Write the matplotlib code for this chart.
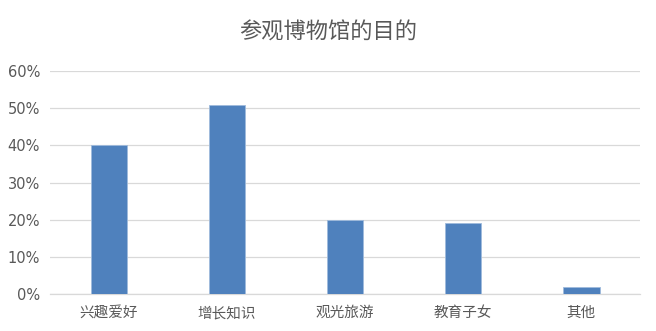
import matplotlib
matplotlib.use("Agg")
import matplotlib.pyplot as plt
from matplotlib.ticker import PercentFormatter

plt.rcParams['font.family'] = ['DejaVu Sans', 'Noto Sans CJK SC']

categories = ['兴趣爱好', '增长知识', '观光旅游', '教育子女', '其他']
shares = [0.40, 0.51, 0.20, 0.19, 0.02]
yticks = [0, 0.1, 0.2, 0.3, 0.4, 0.5, 0.6]
title = '参观博物馆的目的'

fig = plt.figure(figsize=(6.56, 3.31), dpi=100)
ax = fig.add_axes([0.076, 0.112, 0.900, 0.673])

x = range(len(categories))
ax.bar(x, shares, width=0.31, color='#4f81bd', edgecolor='#9fbbdc',
       linewidth=0.6, zorder=3)

ax.set_xlim(-0.5, len(categories) - 0.5)
ax.set_ylim(0, 0.6)
ax.set_yticks(yticks)
ax.yaxis.set_major_formatter(PercentFormatter(1.0, decimals=0))
ax.set_xticks(list(x))
ax.set_xticklabels(categories)

ax.grid(axis='y', color='#d9d9d9', linewidth=0.9, zorder=0)
for side in ['top', 'right', 'left']:
    ax.spines[side].set_visible(False)
ax.spines['bottom'].set_color('#d9d9d9')
ax.spines['bottom'].set_linewidth(0.9)
ax.tick_params(axis='both', length=0, colors='#595959', labelsize=10.5)
ax.tick_params(axis='y', pad=7)
ax.tick_params(axis='x', pad=8)

fig.text(0.5, 1 - 32 / 331, title, ha='center', va='center',
         fontsize=16, color='#595959')

fig.savefig('out.png', dpi=100, facecolor='white')
